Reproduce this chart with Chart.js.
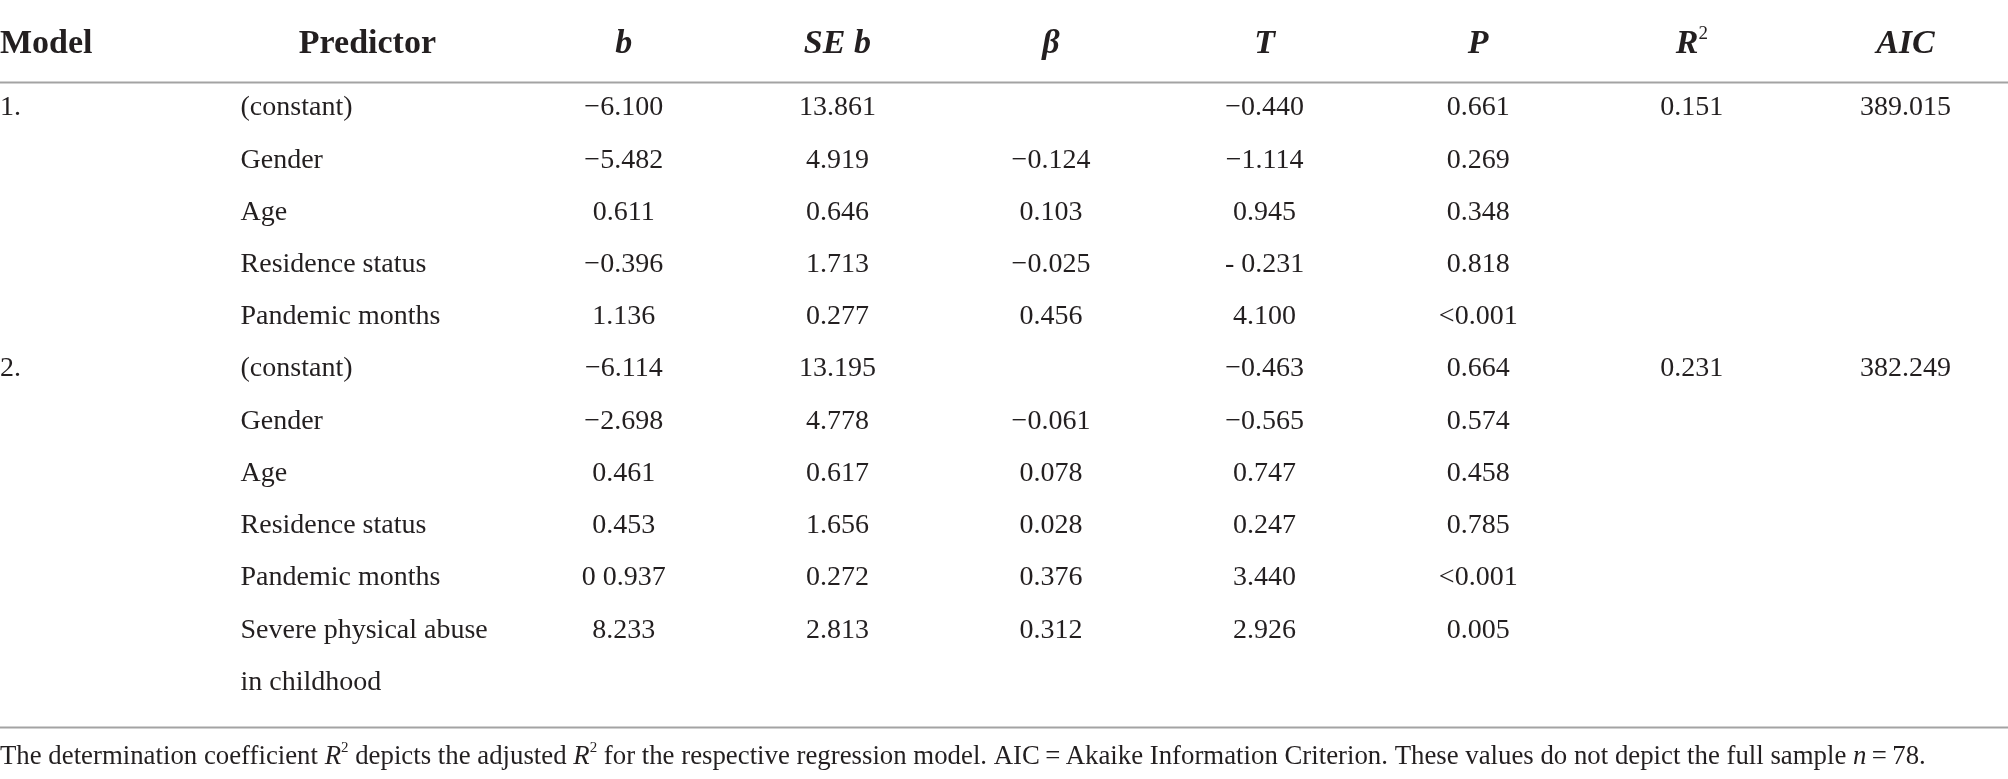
<!DOCTYPE html>
<html>
<head>
<meta charset="utf-8">
<script src="https://cdn.jsdelivr.net/npm/chart.js@4.4.1/dist/chart.umd.min.js"></script>
<style>
  html, body { margin: 0; padding: 0; background: #fff; }
  #wrap { width: 2008px; height: 779px; }
</style>
</head>
<body>
<div id="wrap"><canvas id="tbl" width="2008" height="779"></canvas></div>
<script>
// table content
const headers = ['Model', 'Predictor', 'b', 'SE b', 'β', 'T', 'P', 'R2', 'AIC'];
const models = ['1.', '', '', '', '', '2.', '', '', '', '', ''];
const predictors = ['(constant)', 'Gender', 'Age', 'Residence status', 'Pandemic months',
  '(constant)', 'Gender', 'Age', 'Residence status', 'Pandemic months', 'Severe physical abuse\nin childhood'];
const bVals = ['−6.100', '−5.482', '0.611', '−0.396', '1.136', '−6.114', '−2.698', '0.461', '0.453', '0 0.937', '8.233'];
const seVals = ['13.861', '4.919', '0.646', '1.713', '0.277', '13.195', '4.778', '0.617', '1.656', '0.272', '2.813'];
const betaVals = ['', '−0.124', '0.103', '−0.025', '0.456', '', '−0.061', '0.078', '0.028', '0.376', '0.312'];
const tVals = ['−0.440', '−1.114', '0.945', '- 0.231', '4.100', '−0.463', '−0.565', '0.747', '0.247', '3.440', '2.926'];
const pVals = ['0.661', '0.269', '0.348', '0.818', '<0.001', '0.664', '0.574', '0.458', '0.785', '<0.001', '0.005'];
const r2Vals = ['0.151', '', '', '', '', '0.231', '', '', '', '', ''];
const aicVals = ['389.015', '', '', '', '', '382.249', '', '', '', '', ''];

const columns = [models, predictors, bVals, seVals, betaVals, tVals, pVals, r2Vals, aicVals];

// layout (scale units): column slots on x, row slots on y
const colAnchor = [-0.92, 0.206, 2, 3, 4, 5, 6, 7, 8];
const colAlign = ['left', 'left', 'center', 'center', 'center', 'center', 'center', 'center', 'center'];
const headAnchor = [-0.92, 0.80, 2, 3, 4, 5, 6, 7, 8];
const headRow = -1.23;
const topRule = -0.5;
const bottomRule = 11.86;
const noteRow = 12.43;

const ink = '#231f20';
const serif = '"Liberation Serif", "Times New Roman", serif';
const cellFont = '28px ' + serif;
const headFont = 'bold 34px ' + serif;
const headItal = 'italic bold 34px ' + serif;

const datasets = columns.map((col, c) => ({
  label: headers[c],
  data: col.map((v, r) => ({ x: colAnchor[c], y: r, text: v })).filter(p => p.text !== ''),
  pointRadius: 0,
  pointHoverRadius: 0,
  showLine: false,
  align: colAlign[c]
}));

function drawRuns(ctx, runs, x, y, align) {
  let total = 0;
  runs.forEach(r => { ctx.font = r.font; r.w = ctx.measureText(r.t).width; total += r.w; });
  let cx = align === 'center' ? x - total / 2 : x;
  ctx.textAlign = 'left';
  runs.forEach(r => {
    ctx.font = r.font;
    ctx.fillText(r.t, cx, y + (r.dy || 0));
    cx += r.w;
  });
}

const tablePlugin = {
  id: 'tableText',
  afterDatasetsDraw(chart) {
    const ctx = chart.ctx;
    const xs = chart.scales.x, ys = chart.scales.y;
    ctx.save();
    ctx.fillStyle = ink;
    ctx.textBaseline = 'middle';

    // header row
    const hy = ys.getPixelForValue(headRow);
    headers.forEach((h, c) => {
      const hx = xs.getPixelForValue(headAnchor[c]);
      let runs;
      if (c < 2) runs = [{ t: h, font: headFont }];
      else if (h === 'R2') runs = [{ t: 'R', font: headItal }, { t: '2', font: '19px ' + serif, dy: -10 }];
      else runs = [{ t: h, font: headItal }];
      drawRuns(ctx, runs, hx, hy, c === 0 ? 'left' : 'center');
    });

    // body cells
    chart.data.datasets.forEach((ds, d) => {
      const meta = chart.getDatasetMeta(d);
      meta.data.forEach((el, i) => {
        const p = ds.data[i];
        p.text.split('\n').forEach((line, k) => {
          const ly = k === 0 ? el.y : ys.getPixelForValue(p.y + k);
          ctx.font = cellFont;
          ctx.textAlign = ds.align;
          ctx.fillText(line, el.x, ly);
        });
      });
    });

    // rules
    ctx.strokeStyle = '#a3a3a3';
    ctx.lineWidth = 2;
    [topRule, bottomRule].forEach(v => {
      const ry = Math.round(ys.getPixelForValue(v)) + 0.5;
      ctx.beginPath();
      ctx.moveTo(xs.left, ry);
      ctx.lineTo(xs.right, ry);
      ctx.stroke();
    });

    // footnote
    const nf = '26.8px ' + serif, ni = 'italic 26.8px ' + serif, ns = '15px ' + serif;
    drawRuns(ctx, [
      { t: 'The determination coefficient ', font: nf },
      { t: 'R', font: ni }, { t: '2', font: ns, dy: -9 },
      { t: ' depicts the adjusted ', font: nf },
      { t: 'R', font: ni }, { t: '2', font: ns, dy: -9 },
      { t: ' for the respective regression model. AIC\u2009=\u2009Akaike Information Criterion. These values do not depict the full sample ', font: nf },
      { t: 'n', font: ni },
      { t: '\u2009=\u200978.', font: nf }
    ], xs.left, ys.getPixelForValue(noteRow), 'left');
    ctx.restore();
  }
};

new Chart(document.getElementById('tbl').getContext('2d'), {
  type: 'scatter',
  data: { datasets: datasets },
  options: {
    responsive: false,
    devicePixelRatio: 1,
    animation: false,
    layout: { padding: 0 },
    plugins: { legend: { display: false }, tooltip: { enabled: false } },
    scales: {
      x: { type: 'linear', display: false, min: -0.92, max: 8.48 },
      y: { type: 'linear', display: false, reverse: true, min: -2.07, max: 12.85 }
    }
  },
  plugins: [tablePlugin]
});
</script>
</body>
</html>
